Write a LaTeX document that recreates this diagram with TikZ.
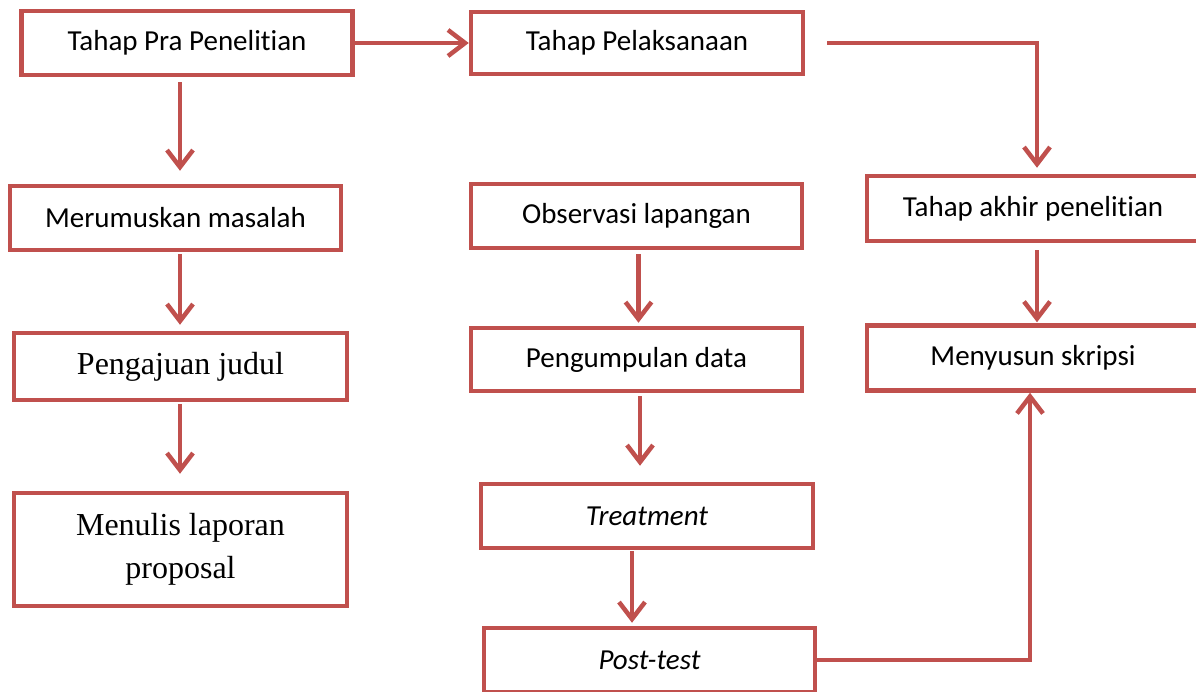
\documentclass[tikz,border=0pt]{standalone}
\usepackage{fontspec}
\setmainfont{Carlito}[RawFeature={-liga;-clig;-calt;-dlig}]
\newfontfamily\tnr{Liberation Serif}
\usetikzlibrary{arrows.meta}
\definecolor{merah}{HTML}{C0504D}

\begin{document}
\begin{tikzpicture}[x=1pt,y=-1pt,
  box/.style={draw=merah,line width=4.5pt,fill=white,inner sep=0pt,align=center,
    font=\fontsize{29}{35}\selectfont},
  serif/.style={font=\tnr\fontsize{32}{43}\selectfont},
  arr/.style={draw=merah,line width=4.5pt,-{Straight Barb[length=17pt,width=26pt]}}]
\useasboundingbox (0,0) rectangle (1196,691);
\node [box,minimum width=331,minimum height=64] (pra) at (187,43) {Tahap Pra Penelitian};
\node [box,minimum width=332,minimum height=62] (pelak) at (637,43) {Tahap Pelaksanaan};
\node [box,minimum width=331,minimum height=64] (rumus) at (175.5,218) {Merumuskan masalah};
\node [box,serif,minimum width=333,minimum height=67] (ajuan) at (180.5,366.5) {Pengajuan judul};
\node [box,serif,minimum width=333,minimum height=113] (laporan) at (180.5,549.5) {Menulis laporan\\proposal};
\node [box,minimum width=331,minimum height=64] (observ) at (636.5,216) {Observasi lapangan};
\node [box,minimum width=331,minimum height=63] (kumpul) at (636.5,359.5) {Pengumpulan data};
\node [box,minimum width=332,minimum height=64] (treat) at (647,516) {\itshape Treatment};
\node [box,minimum width=331,minimum height=64] (post) at (649.5,660) {\itshape Post-test};
\node [box,minimum width=332,minimum height=65] (akhir) at (1033,208.5) {Tahap akhir penelitian};
\node [box,minimum width=332,minimum height=65] (susun) at (1033,358) {Menyusun skripsi};
\draw [arr] (pra.east) -- (pelak.west);
\draw [arr,shorten <=5pt,shorten >=13pt] ([xshift=-7]pra.south) -- ([xshift=-7]pra.south |- rumus.north);
\draw [arr,shorten <=2pt,shorten >=6pt] ([xshift=4.5]rumus.south) -- ([xshift=4.5]rumus.south |- ajuan.north);
\draw [arr,shorten <=2pt,shorten >=17pt] ([xshift=-0.5]ajuan.south) -- ([xshift=-0.5]ajuan.south |- laporan.north);
\draw [arr,shorten <=4pt,shorten >=3pt] ([xshift=2]observ.south) -- ([xshift=2]observ.south |- kumpul.north);
\draw [arr,shorten <=3pt,shorten >=16pt] ([xshift=3.5]kumpul.south) -- ([xshift=3.5]kumpul.south |- treat.north);
\draw [arr,shorten <=1pt,shorten >=3pt] ([xshift=-15]treat.south) -- ([xshift=-15]treat.south |- post.north);
\draw [arr,shorten <=7pt,shorten >=1pt] ([xshift=4]akhir.south) -- ([xshift=4]akhir.south |- susun.north);
\draw [arr,shorten >=6pt] ([xshift=22]pelak.east) -| ([xshift=4]akhir.north);
\draw [arr] (post.east) -| ([xshift=-3]susun.south);
\end{tikzpicture}
\end{document}
